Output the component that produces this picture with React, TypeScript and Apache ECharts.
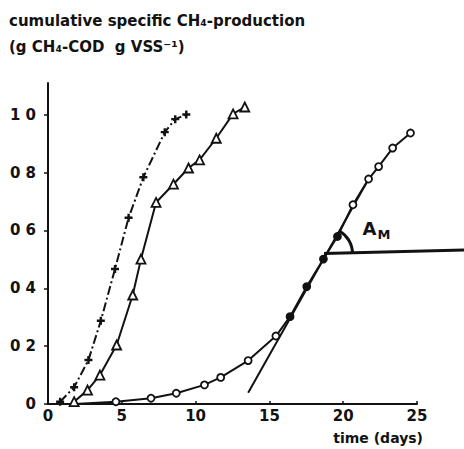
import React, { useEffect, useRef } from "react";
import * as echarts from "echarts";

// ---- data ----
const plusSeries: [number, number][] = [
  [0.82, 0.008], [1.77, 0.058], [2.74, 0.152], [3.58, 0.288], [4.54, 0.467],
  [5.46, 0.644], [6.46, 0.784], [7.91, 0.94], [8.62, 0.985], [9.37, 1.001],
];
const triangleSeries: [number, number][] = [
  [1.77, 0.008], [2.68, 0.048], [3.52, 0.1], [4.65, 0.204], [5.74, 0.377],
  [6.3, 0.501], [7.32, 0.697], [8.5, 0.76], [9.52, 0.816], [10.27, 0.844],
  [11.4, 0.919], [12.54, 1.003], [13.33, 1.027],
];
const circleStart: [number, number] = [1.8, 0.0];
const circleSeries: [number, number][] = [
  [4.6, 0.008], [6.98, 0.02], [8.69, 0.037], [10.6, 0.066], [11.7, 0.092],
  [13.56, 0.15], [15.44, 0.235], [16.4, 0.302], [17.53, 0.406], [18.66, 0.501],
  [19.61, 0.579], [20.66, 0.689], [21.72, 0.778], [22.4, 0.821], [23.35, 0.885],
  [24.56, 0.937],
];
// circle points drawn filled where the tangent covers them
const filledCircleDays = [16.4, 17.53, 18.66, 19.61];
const tangentLine: [number, number][] = [[13.56, 0.039], [21.8, 0.785]];
const horizontalLine: [number, number][] = [[18.7, 0.52], [28.3, 0.533]];
const angleVertex: [number, number] = [18.87, 0.52];
const angleDegrees = 60.6;

const xTicks = [0, 5, 10, 15, 20, 25];
const xTickLabels = ["0", "5", "10", "15", "20", "25"];
const yTicks = [0, 0.2, 0.4, 0.6, 0.8, 1.0];
const yTickLabels = ["0", "0 2", "0 4", "0 6", "0 8", "1 0"];

const titleLine1 = "cumulative specific CH₄-production";
const titleLine2 = "(g CH₄-COD  g VSS⁻¹)";
const xAxisTitle = "time (days)";

const INK = "#121212";
const FONT = "DejaVu Sans";

export default function App() {
  const ref = useRef<HTMLDivElement>(null);
  useEffect(() => {
    if (!ref.current) return;
    const chart = echarts.init(ref.current, undefined, { renderer: "svg" });
    const plusPath = "path://M3.5,0 L6.5,0 L6.5,3.5 L10,3.5 L10,6.5 L6.5,6.5 L6.5,10 L3.5,10 L3.5,6.5 L0,6.5 L0,3.5 L3.5,3.5 Z";
    chart.setOption({
      animation: false,
      backgroundColor: "#ffffff",
      grid: { left: 48, right: 47, top: 83, bottom: 45 },
      xAxis: {
        type: "value",
        min: 0,
        max: 25,
        interval: 5,
        splitLine: { show: false },
        axisLine: { lineStyle: { color: INK, width: 2 } },
        axisTick: { inside: true, length: 3, lineStyle: { color: INK, width: 1.5 }, customValues: xTicks },
        axisLabel: {
          customValues: xTicks,
          margin: 4,
          color: INK,
          fontFamily: FONT,
          fontWeight: "bold",
          fontSize: 15,
          formatter: (v: number) => xTickLabels[xTicks.indexOf(v)] ?? "",
        },
      },
      yAxis: {
        type: "value",
        min: 0,
        max: 1.11,
        splitLine: { show: false },
        axisLine: { lineStyle: { color: INK, width: 2 } },
        axisTick: { inside: false, length: 4, lineStyle: { color: INK, width: 1.5 }, customValues: yTicks },
        axisLabel: {
          customValues: yTicks,
          margin: 12,
          color: INK,
          fontFamily: FONT,
          fontWeight: "bold",
          fontSize: 15,
          formatter: (v: number) => {
            const i = Math.round(v / 0.2);
            return Math.abs(v - i * 0.2) < 1e-6 ? yTickLabels[i] ?? "" : "";
          },
        },
      },
      graphic: [
        { type: "text", left: 9, top: 13, style: { text: titleLine1, fill: INK, font: `bold 15px "${FONT}"` } },
        { type: "text", left: 9, top: 39, style: { text: titleLine2, fill: INK, font: `bold 15px "${FONT}"` } },
        { type: "text", right: 41, top: 431, style: { text: xAxisTitle, fill: INK, font: `bold 14px "${FONT}"` } },
      ],
      series: [
        {
          type: "line",
          data: plusSeries,
          symbol: plusPath,
          symbolSize: 8,
          lineStyle: { color: INK, width: 2, type: [9, 3, 2, 3] },
          itemStyle: { color: INK },
          z: 3,
        },
        {
          type: "line",
          data: triangleSeries,
          symbol: "triangle",
          symbolSize: 9,
          lineStyle: { color: INK, width: 2 },
          itemStyle: { color: "#fff", borderColor: INK, borderWidth: 1.8 },
          z: 3,
        },
        {
          type: "line",
          data: [
            { value: circleStart, symbol: "none" },
            ...circleSeries.map((p) =>
              filledCircleDays.includes(p[0])
                ? { value: p, itemStyle: { color: INK } }
                : { value: p }
            ),
          ],
          symbol: "circle",
          symbolSize: 7,
          lineStyle: { color: INK, width: 2 },
          itemStyle: { color: "#fff", borderColor: INK, borderWidth: 1.8 },
          z: 3,
        },
        {
          type: "line",
          data: tangentLine,
          symbol: "none",
          lineStyle: { color: INK, width: 2 },
          z: 2,
        },
        {
          type: "custom",
          data: [[angleVertex[0], angleVertex[1], horizontalLine[0][0], horizontalLine[0][1], horizontalLine[1][0], horizontalLine[1][1]]],
          clip: false,
          z: 4,
          renderItem: (_params: any, api: any) => {
            const c = api.coord([api.value(0), api.value(1)]);
            const h0 = api.coord([api.value(2), api.value(3)]);
            const h1 = api.coord([api.value(4), api.value(5)]);
            return {
              type: "group",
              children: [
                {
                  type: "line",
                  shape: { x1: h0[0], y1: h0[1], x2: h1[0], y2: h1[1] },
                  style: { stroke: INK, lineWidth: 3 },
                },
                {
                  type: "arc",
                  shape: {
                    cx: c[0],
                    cy: c[1],
                    r: 26,
                    startAngle: (-angleDegrees * Math.PI) / 180,
                    endAngle: 0,
                    clockwise: true,
                  },
                  style: { stroke: INK, lineWidth: 3, fill: null },
                },
                {
                  type: "text",
                  x: c[0] + 36,
                  y: c[1] - 38,
                  style: {
                    text: "A{m|M}",
                    fill: INK,
                    font: `bold 18px "${FONT}"`,
                    rich: { m: { fontSize: 13, fontWeight: "bold", fontFamily: FONT, padding: [12, 0, 0, 1] } },
                  },
                },
              ],
            };
          },
        },
      ],
    });
    return () => chart.dispose();
  }, []);
  return (
    <div
      ref={ref}
      style={{ position: "fixed", left: 0, top: 0, width: 464, height: 449, background: "#fff" }}
    />
  );
}
